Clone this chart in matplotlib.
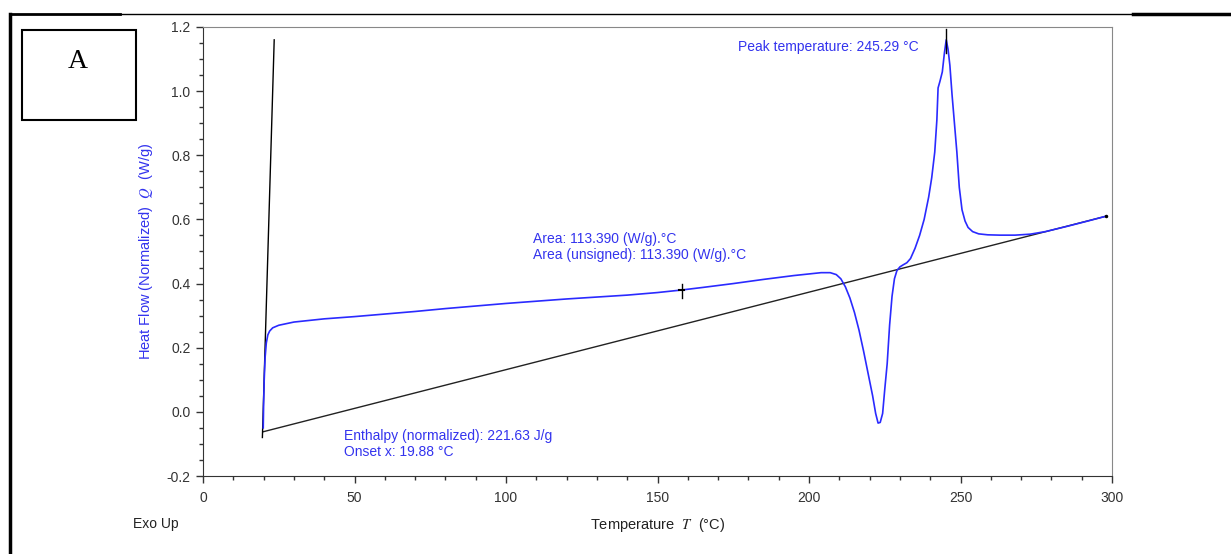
import matplotlib.pyplot as plt
from matplotlib.ticker import MultipleLocator
from matplotlib.patches import Rectangle
from matplotlib.lines import Line2D

plt.rcParams['font.family'] = ['Liberation Sans', 'DejaVu Sans']
plt.rcParams['mathtext.fontset'] = 'stix'

# DSC curve
temp = [19.88, 20.0, 20.2, 20.5, 20.9, 21.4, 22.0, 23.0, 25, 30, 40, 50, 60, 70, 80, 90,
        100, 110, 120, 130, 140, 150, 158, 165, 175, 185, 195, 200, 204, 207, 209, 210.5,
        212, 213.5, 215, 216.5, 218, 219.5, 221, 222, 222.8, 223.5, 224.3, 225, 225.8,
        226.6, 227.4, 228.2, 229, 230, 231, 232.3, 233.5, 235, 236.5, 238, 239.5, 240.5,
        241.5, 242.2, 242.6, 243.2, 244.0, 244.7, 245.29, 245.9, 246.5, 247.2, 248, 248.8,
        249.6, 250.5, 251.5, 252.5, 254, 256, 259, 263, 268, 273, 278, 285, 292, 298]
heat_flow = [-0.05, 0.02, 0.10, 0.17, 0.215, 0.24, 0.252, 0.262, 0.270, 0.280, 0.290, 0.297,
             0.305, 0.313, 0.322, 0.330, 0.338, 0.345, 0.352, 0.358, 0.364, 0.372, 0.380,
             0.388, 0.400, 0.413, 0.425, 0.430, 0.434, 0.434, 0.428, 0.415, 0.39, 0.355,
             0.31, 0.255, 0.19, 0.12, 0.05, -0.005, -0.035, -0.033, -0.005, 0.07, 0.15, 0.27,
             0.36, 0.415, 0.44, 0.452, 0.458, 0.465, 0.478, 0.51, 0.55, 0.60, 0.67, 0.73,
             0.81, 0.91, 1.01, 1.03, 1.06, 1.12, 1.16, 1.13, 1.08, 0.99, 0.90, 0.81, 0.70,
             0.63, 0.595, 0.575, 0.562, 0.555, 0.552, 0.551, 0.551, 0.554, 0.562, 0.578,
             0.595, 0.61]

baseline_x = [19.88, 298]
baseline_y = [-0.062, 0.61]
tangent_x = [19.6, 23.5]
tangent_y = [-0.08, 1.16]

peak_t = 245.29
peak_q = 1.16
mark_t = 158
mark_q = 0.38

blue = '#2a2aff'
txt_blue = '#3333ee'

fig = plt.figure(figsize=(12.31, 5.54), dpi=100)
ax = fig.add_axes([203 / 1231, 1 - 476 / 554, 909 / 1231, 449 / 554])

ax.plot(baseline_x, baseline_y, color='#222222', lw=1.0)
ax.plot(tangent_x, tangent_y, color='black', lw=1.0)
ax.plot(temp, heat_flow, color=blue, lw=1.2)
ax.plot([baseline_x[1]], [baseline_y[1]], 'k.', ms=3)

# markers
ax.plot([peak_t, peak_t], [peak_q - 0.04, peak_q + 0.035], color='black', lw=1)
ax.plot([mark_t, mark_t], [mark_q - 0.025, mark_q + 0.02], color='black', lw=1)
ax.plot([mark_t - 0.8, mark_t + 0.8], [mark_q, mark_q], color='black', lw=1.5)

ax.set_xlim(0, 300)
ax.set_ylim(-0.2, 1.2)
ax.xaxis.set_major_locator(MultipleLocator(50))
ax.xaxis.set_minor_locator(MultipleLocator(10))
ax.yaxis.set_major_locator(MultipleLocator(0.2))
ax.yaxis.set_minor_locator(MultipleLocator(0.05))
ax.yaxis.set_major_formatter(plt.FuncFormatter(lambda v, p: f'{v:.1f}'))
ax.tick_params(which='major', length=5, width=1, labelsize=10, colors='#333333', pad=4)
ax.tick_params(axis='x', which='major', pad=6)
ax.tick_params(which='minor', length=3, width=1, colors='#333333')
for s in ['top', 'right']:
    ax.spines[s].set_color('#888888')
for s in ['left', 'bottom']:
    ax.spines[s].set_color('#333333')

ax.set_ylabel('Heat Flow (Normalized)  $\\mathit{Q}$  (W/g)', color=txt_blue, fontsize=10.5, labelpad=8)
ax.set_xlabel('Temperature  $\\mathit{T}$  (°C)', color='#222222', fontsize=10.5, labelpad=8)

ax.text(176.6, 1.138, 'Peak temperature: 245.29 °C', color=txt_blue, fontsize=10, va='center')
ax.text(108.9, 0.539, 'Area: 113.390 (W/g).°C', color=txt_blue, fontsize=10, va='center')
ax.text(108.9, 0.489, 'Area (unsigned): 113.390 (W/g).°C', color=txt_blue, fontsize=10, va='center')
ax.text(46.5, -0.075, 'Enthalpy (normalized): 221.63 J/g', color=txt_blue, fontsize=10, va='center')
ax.text(46.5, -0.125, 'Onset x: 19.88 °C', color=txt_blue, fontsize=10, va='center')

fig.text(133 / 1231, 1 - 524 / 554, 'Exo Up', fontsize=10, color='#222222', va='center')

# page frame and label box
fig.add_artist(Line2D([10 / 1231, 10 / 1231], [0, 1 - 14 / 554], color='black', lw=2.5))
fig.add_artist(Line2D([10 / 1231, 120 / 1231], [1 - 14 / 554] * 2, color='black', lw=2))
fig.add_artist(Line2D([120 / 1231, 1133 / 1231], [1 - 14 / 554] * 2, color='black', lw=1))
fig.add_artist(Line2D([1133 / 1231, 1230 / 1231], [1 - 14 / 554] * 2, color='black', lw=2.5))
fig.add_artist(Rectangle((22 / 1231, 1 - 120 / 554), 114 / 1231, 90 / 554, fill=False,
                         edgecolor='black', lw=1.5, transform=fig.transFigure))
fig.text(78 / 1231, 1 - 62 / 554, 'A', fontsize=20, family='Liberation Serif',
         ha='center', va='center')

fig.savefig('out.png', dpi=100)
